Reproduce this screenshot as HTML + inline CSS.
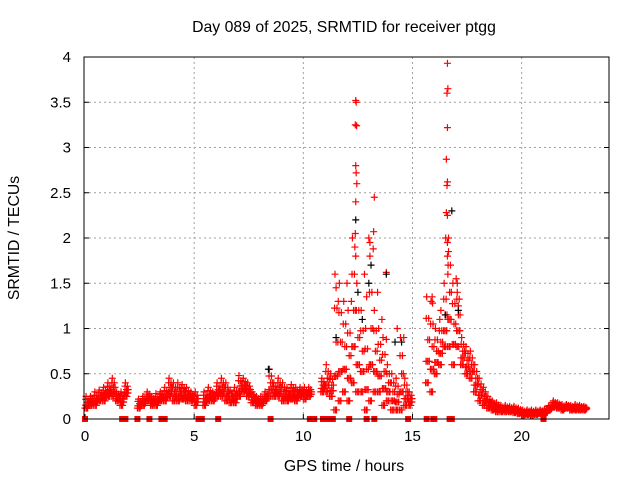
<!DOCTYPE html>
<html><head><meta charset="utf-8"><style>
body{margin:0;background:#fff}
svg{display:block;font-family:"Liberation Sans",sans-serif}
</style></head><body>
<svg id="chart" width="640" height="480" viewBox="0 0 640 480">
<rect width="640" height="480" fill="#fff"/>
<text x="344" y="32" text-anchor="middle" font-size="15.8">Day 089 of 2025, SRMTID for receiver ptgg</text>
<text x="344" y="471" text-anchor="middle" font-size="15.8">GPS time / hours</text>
<text transform="translate(19,238) rotate(-90)" text-anchor="middle" font-size="15.8">SRMTID / TECUs</text>
<g id="grid"></g>
<g id="ticks"></g>
<g id="marks"></g>
<rect x="84" y="57" width="525" height="362" fill="none" stroke="#000" stroke-width="1"/>
</svg>
<script>
const xTicks=[0,5,10,15,20];
const yTicks=[0,0.5,1,1.5,2,2.5,3,3.5,4];
const yTickLabels=["0","0.5","1","1.5","2","2.5","3","3.5","4"];
const bandTimes=[0,0.2,0.4,0.6,0.8,1,1.2,1.4,1.6,1.8,2.4,2.6,2.8,3,3.2,3.4,3.6,3.8,4,4.2,4.4,4.6,4.8,5,5.4,5.6,5.8,6,6.2,6.4,6.6,6.8,7,7.2,7.4,7.6,7.8,8,8.2,8.4,8.6,8.8,9,9.2,9.4,9.6,9.8,10,10.2,10.8,11,11.2,11.4,11.6,11.8,12,12.2,12.4,12.6,12.8,13,13.2,13.4,13.6,13.8,14,14.2,14.4,14.6,14.8,15.6,15.8,16,16.2,16.4,16.6,16.8,17,17.2,17.4,17.6,17.8,18,18.2,18.4,18.6,18.8,19,19.2,19.4,19.6,19.8,20,20.2,20.4,20.6,20.8,21,21.2,21.4,21.6,21.8,22,22.2,22.4,22.6,22.8];
const bandLow=[.12,.15,.15,.2,.2,.25,.25,.2,.15,.25,.12,.15,.2,.15,.15,.2,.2,.25,.2,.2,.22,.2,.2,.15,.15,.2,.2,.25,.25,.2,.18,.18,.25,.3,.25,.18,.15,.15,.2,.25,.25,.25,.2,.2,.22,.2,.25,.22,.25,.3,.3,.25,.1,.2,.3,.2,.4,.3,.3,.1,.2,.3,.3,.15,.2,.1,.1,.1,.15,.15,.4,.3,.5,.6,.8,.8,.6,.8,.6,.5,.45,.3,.2,.15,.12,.1,.08,.08,.08,.08,.07,.06,.04,.05,.04,.05,.06,.06,.1,.13,.12,.1,.12,.1,.1,.1,.1];
const bandHigh=[.25,.25,.3,.32,.35,.4,.45,.3,.3,.4,.22,.25,.3,.25,.28,.3,.35,.45,.4,.4,.38,.35,.3,.3,.3,.35,.3,.4,.45,.4,.32,.35,.48,.45,.4,.3,.25,.25,.3,.55,.4,.45,.4,.35,.38,.35,.35,.35,.35,.45,.6,.5,1.6,1.5,1.3,1.2,2.0,1.5,1.2,1.0,1.8,1.2,1.0,.9,.6,.5,.45,.9,.45,.3,1.35,1.3,1.0,1.1,1.5,2.0,1.5,1.5,.9,.8,.75,.6,.45,.35,.25,.2,.18,.15,.15,.14,.14,.12,.1,.1,.1,.1,.1,.11,.15,.2,.18,.16,.16,.15,.16,.15,.14];
const peakTimes=[12.4,12.42,12.38,12.44,12.4,12.42,12.45,12.4,12.38,12.36,12.4,13.0,13.05,13.25,13.22,13.2,16.6,16.62,16.58,16.6,16.55,16.6,16.58,16.55,16.6,16.52,16.6,16.65,16.6,16.62,17.0,17.05,15.9,15.92,11.6,12.0,12.8,13.4,13.8,13.8,14.3,14.6,11.5,12.2,12.9,13.6,16.3,17.1];
const peakValues=[3.52,3.5,3.25,3.24,2.8,2.72,2.6,2.4,2.05,1.9,1.8,2.0,1.95,2.45,2.07,1.88,3.93,3.65,3.6,3.22,2.87,2.62,2.58,2.28,2.25,2.0,1.95,1.85,1.8,1.6,1.55,1.4,1.35,1.28,1.3,1.5,1.6,1.4,1.62,.88,1.0,.9,1.45,1.3,1.35,1.1,1.2,1.25];
const blackTimes=[12.4,12.5,13.0,13.1,13.8,14.2,16.5,17.1,8.4,11.5,16.8,12.7,14.5];
const blackValues=[2.2,1.4,1.5,1.7,1.6,.85,1.15,1.2,.55,.9,2.3,1.1,.85];
const zeroTimes=[0,1.7,1.85,2.4,2.95,3.5,3.65,5.2,5.3,5.35,6.1,8.5,10.3,10.5,10.9,11.15,11.25,11.35,12.1,12.9,13.25,14.8,15.65,15.95,16.0,16.7,16.8,21.0];

const X0=84,X1=609,Y0=419,Y1=57;
const sx=t=>X0+1+(t/24)*(X1-X0-1);
const sy=v=>Y0-(v/4)*(Y0-Y1);
const NS="http://www.w3.org/2000/svg";
const grid=document.getElementById('grid'),ticks=document.getElementById('ticks'),marks=document.getElementById('marks');
function mk(tag,attrs,parent){const e=document.createElementNS(NS,tag);for(const k in attrs)e.setAttribute(k,attrs[k]);parent.appendChild(e);return e;}
xTicks.forEach(t=>{
  const x=sx(t);
  if(t>0){const g=mk('line',{x1:x,x2:x,y1:Y1,y2:Y0,stroke:'#a0a0a0','stroke-dasharray':'2,3'},grid);
  
  }
  const l=mk('text',{x:x,y:Y0+22,'text-anchor':'middle','font-size':'15'},ticks);
  
  
  l.textContent=String(t);
  mk('line',{x1:x,x2:x,y1:Y0,y2:Y0-5,stroke:'#000'},ticks);
});
yTicks.forEach((v,i)=>{
  const y=sy(v);
  if(v>0&&v<4){const g=mk('line',{x1:X0,x2:X1,y1:y,y2:y,stroke:'#a0a0a0','stroke-dasharray':'2,3'},grid);
  
  }
  const l=mk('text',{x:X0-13,y:y+5,'text-anchor':'end','font-size':'15'},ticks);
  
  
  l.textContent=yTickLabels[i];
  mk('line',{x1:X0,x2:X0+5,y1:y,y2:y,stroke:'#000'},ticks);
  mk('line',{x1:X1,x2:X1-5,y1:y,y2:y,stroke:'#000'},ticks);
});
function plus(t,v,c){
  const x=sx(t),y=sy(v);
  const p=mk('path',{d:`M${x-3.5},${y}h7M${x},${y-3.5}v7`,stroke:c,'stroke-width':'1.2',fill:'none'},marks);
  
  
}
bandTimes.forEach((t,i)=>{
  const lo=bandLow[i],hi=bandHigh[i],m=(lo+hi)/2;
  [[0,lo],[0.05,hi],[0.1,m],[0.15,(lo+m)/2],[0.03,(m+hi)/2],[0.12,lo],[0.08,(lo+m)/2],[0.18,m],[0.02,(lo+m)/2],[0.14,(m+hi)/2],[0.07,lo],[0.17,(lo+m)/2]].forEach(([dt,v])=>plus(t+dt,v,'#ff0000'));
});
peakTimes.forEach((t,i)=>plus(t,peakValues[i],'#ff0000'));
blackTimes.forEach((t,i)=>plus(t,blackValues[i],'#000'));
zeroTimes.forEach(t=>{
  const r=mk('rect',{x:sx(t)-3,y:Y0-3,width:6,height:6,fill:'#ff0000'},marks);
  
  
});
</script>
</body></html>
